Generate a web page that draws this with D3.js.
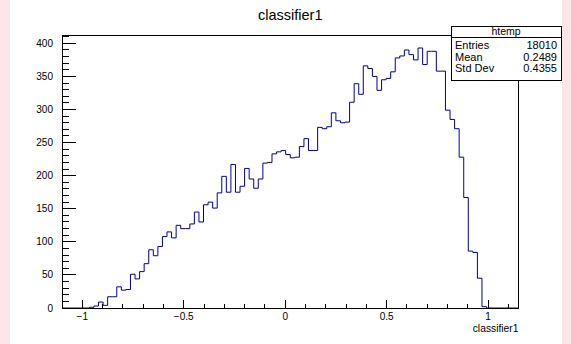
<!DOCTYPE html>
<html>
<head>
<meta charset="utf-8">
<script src="https://cdn.jsdelivr.net/npm/d3@7"></script>
<style>
  body { margin: 0; background: #fce6ea; }
  svg { display: block; }
  text { font-family: "Liberation Sans", Arial, Helvetica, sans-serif; fill: #000; }
</style>
</head>
<body>
<svg width="571" height="344"></svg>
<script>
// histogram binning (htemp: 100 bins)
const binLow = -1.1;
const binHigh = 1.15;
const counts = [
  0, 0, 0, 0, 0, 0, 1, 3, 9, 4,
  17, 17, 32, 27, 28, 51, 44, 55, 67, 88,
  79, 93, 108, 115, 106, 125, 120, 120, 127, 145,
  130, 156, 160, 151, 174, 199, 175, 217, 175, 184,
  211, 195, 181, 195, 219, 220, 233, 236, 238, 232,
  227, 228, 244, 256, 238, 238, 273, 271, 274, 295,
  283, 280, 281, 311, 339, 323, 366, 362, 350, 329,
  345, 347, 357, 378, 381, 390, 383, 375, 393, 368,
  388, 388, 358, 358, 299, 285, 271, 228, 167, 86,
  84, 45, 2, 0, 0, 0, 0, 0, 0, 0
];

const xMajor = [-1, -0.5, 0, 0.5, 1];
const xLabels = ["\u22121", "\u22120.5", "0", "0.5", "1"];
const yMajor = [0, 50, 100, 150, 200, 250, 300, 350, 400];
const yLabels = ["0", "50", "100", "150", "200", "250", "300", "350", "400"];

const title = "classifier1";
const xTitle = "classifier1";
const statsName = "htemp";
const statsRows = [["Entries", "18010"], ["Mean", "0.2489"], ["Std Dev", "0.4355"]];

let svg = d3.select("svg");
let margin = { top: 35, right: 52.5, bottom: 36, left: 62 };
let width = +svg.attr("width") - margin.left - margin.right;
let height = +svg.attr("height") - margin.top - margin.bottom;

// white canvas between the pink strips
svg.append("rect").attr("x", 10).attr("y", 0).attr("width", 552).attr("height", 344).attr("fill", "#fff");

let x = d3.scaleLinear().domain([binLow, binHigh]).range([0, width]);
let y = d3.scaleLinear().domain([0, d3.max(counts) * 1.05]).range([height, 0]);

let chart = svg.append("g").attr("transform", "translate(" + margin.left + "," + margin.top + ")");

// title
svg.append("text")
  .attr("x", margin.left + width / 2)
  .attr("y", 19.5)
  .attr("text-anchor", "middle")
  .style("font-size", "14.5px")
  .text(title);

// histogram outline
let binW = (binHigh - binLow) / counts.length;
let pts = [[binLow, 0]];
counts.forEach(function (c, i) { pts.push([binLow + i * binW, c]); });
pts.push([binHigh, counts[counts.length - 1]]);
pts.push([binHigh, 0]);

chart.append("path")
  .attr("d", d3.line().x(function (d) { return x(d[0]); }).y(function (d) { return y(d[1]); }).curve(d3.curveStepAfter)(pts))
  .attr("fill", "none")
  .attr("stroke", "#000099")
  .attr("stroke-width", 1);

// frame
chart.append("rect")
  .attr("x", 0).attr("y", 0).attr("width", width).attr("height", height)
  .attr("fill", "none").attr("stroke", "#000").attr("stroke-width", 1)
  .attr("shape-rendering", "crispEdges");

// x axis ticks (inside the frame)
let xMinor = d3.range(-11, 12).map(function (k) { return k / 10; });
chart.append("g").selectAll("line.minor")
  .data(xMinor).enter().append("line")
  .attr("x1", function (d) { return x(d); }).attr("x2", function (d) { return x(d); })
  .attr("y1", height).attr("y2", height - 4)
  .attr("stroke", "#000").attr("shape-rendering", "crispEdges");
chart.append("g").selectAll("line.major")
  .data(xMajor).enter().append("line")
  .attr("x1", function (d) { return x(d); }).attr("x2", function (d) { return x(d); })
  .attr("y1", height).attr("y2", height - 8.2)
  .attr("stroke", "#000").attr("shape-rendering", "crispEdges");
chart.append("g").selectAll("text")
  .data(xMajor).enter().append("text")
  .attr("x", function (d) { return x(d); })
  .attr("y", height + 12)
  .attr("text-anchor", "middle")
  .style("font-size", "10px")
  .text(function (d, i) { return xLabels[i]; });

chart.append("text")
  .attr("x", width)
  .attr("y", height + 23.5)
  .attr("text-anchor", "end")
  .style("font-size", "10.3px")
  .text(xTitle);

// y axis ticks (inside the frame)
let yMinor = d3.range(0, 420, 10);
chart.append("g").selectAll("line")
  .data(yMinor).enter().append("line")
  .attr("x1", 0).attr("x2", 6.8)
  .attr("y1", function (d) { return y(d); }).attr("y2", function (d) { return y(d); })
  .attr("stroke", "#000").attr("shape-rendering", "crispEdges");
chart.append("g").selectAll("line")
  .data(yMajor).enter().append("line")
  .attr("x1", 0).attr("x2", 13.7)
  .attr("y1", function (d) { return y(d); }).attr("y2", function (d) { return y(d); })
  .attr("stroke", "#000").attr("shape-rendering", "crispEdges");
chart.append("g").selectAll("text")
  .data(yMajor).enter().append("text")
  .attr("x", -9)
  .attr("y", function (d) { return y(d); })
  .attr("dy", "0.35em")
  .attr("text-anchor", "end")
  .style("font-size", "10px")
  .text(function (d, i) { return yLabels[i]; });

// stats box
let stats = svg.append("g").attr("transform", "translate(451,26)");
stats.append("rect").attr("width", 110).attr("height", 54)
  .attr("fill", "#fff").attr("stroke", "#000").attr("shape-rendering", "crispEdges");
stats.append("line").attr("x1", 0).attr("x2", 110).attr("y1", 11).attr("y2", 11)
  .attr("stroke", "#000").attr("shape-rendering", "crispEdges");
stats.append("text").attr("x", 55).attr("y", 9.2).attr("text-anchor", "middle")
  .style("font-size", "10.5px").text(statsName);
statsRows.forEach(function (r, i) {
  stats.append("text").attr("x", 4).attr("y", 23 + i * 11.5).style("font-size", "11px").text(r[0]);
  stats.append("text").attr("x", 106).attr("y", 23 + i * 11.5).attr("text-anchor", "end")
    .style("font-size", "11px").text(r[1]);
});
</script>
</body>
</html>
